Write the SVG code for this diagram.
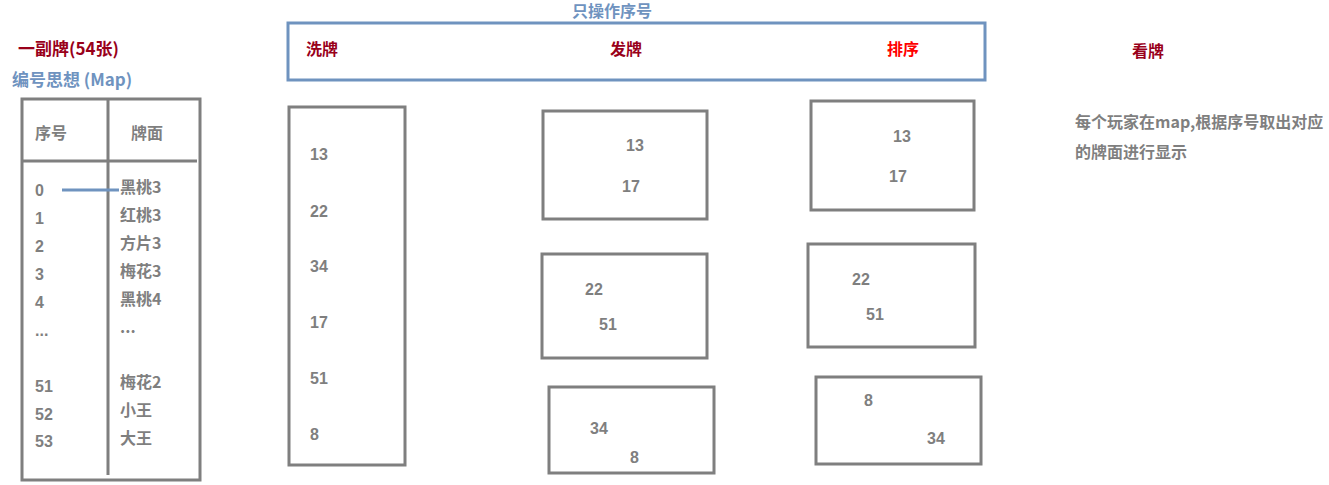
<svg xmlns="http://www.w3.org/2000/svg" width="1329" height="485" viewBox="0 0 1329 485">
<style>
text{font-family:"Liberation Sans","Noto Sans CJK SC",sans-serif;font-size:16px;font-weight:bold;fill:#7f7f7f}
.cj{font-family:"Noto Sans CJK SC",sans-serif;font-size:16px}
.ttl{font-size:17px}
.red{fill:#99001a}
.bright{fill:#ff0000}
.blue{fill:#6f93bf}
.box{fill:none;stroke:#7f7f7f;stroke-width:3}
.bbox{fill:none;stroke:#6f93bf;stroke-width:3}
.num{font-size:16px}
</style>
<rect width="1329" height="485" fill="#ffffff"/>
<g id="titles">
<text class="cj ttl red" x="18" y="55">一副牌(54张)</text>
<text class="cj ttl blue" x="12" y="86">编号思想 (Map)</text>
<text class="cj blue" x="572" y="17">只操作序号</text>
<text class="cj red" x="1132" y="57">看牌</text>
<text class="cj" x="1075" y="128">每个玩家在map,根据序号取出对应</text>
<text class="cj" x="1075" y="158">的牌面进行显示</text>
</g>
<g id="map-table">
<rect class="box" x="22" y="99" width="178" height="381"/>
<line class="box" x1="108" y1="100" x2="108" y2="475"/>
<line class="box" x1="22" y1="161" x2="197" y2="161"/>
<text class="cj" x="35" y="139">序号</text>
<text class="cj" x="131" y="139">牌面</text>
<text class="num" x="35" y="196">0</text>
<text class="num" x="35" y="224">1</text>
<text class="num" x="35" y="252">2</text>
<text class="num" x="35" y="280">3</text>
<text class="num" x="35" y="308">4</text>
<text class="num" x="35" y="336">...</text>
<text class="num" x="35" y="392">51</text>
<text class="num" x="35" y="420">52</text>
<text class="num" x="35" y="447">53</text>
<text class="cj" x="120" y="193">黑桃3</text>
<text class="cj" x="120" y="221">红桃3</text>
<text class="cj" x="120" y="249">方片3</text>
<text class="cj" x="120" y="277">梅花3</text>
<text class="cj" x="120" y="305">黑桃4</text>
<text class="cj" x="120" y="333">...</text>
<text class="cj" x="120" y="388">梅花2</text>
<text class="cj" x="120" y="416">小王</text>
<text class="cj" x="120" y="444">大王</text>
</g>
<g id="ops">
<rect class="bbox" x="288" y="23" width="697" height="57"/>
<text class="cj red" x="306" y="55">洗牌</text>
<text class="cj red" x="610" y="55">发牌</text>
<text class="cj bright" x="887" y="55">排序</text>
</g>
<g id="shuffle">
<rect class="box" x="289" y="107" width="116" height="358"/>
<text class="num" x="310" y="160">13</text>
<text class="num" x="310" y="217">22</text>
<text class="num" x="310" y="272">34</text>
<text class="num" x="310" y="328">17</text>
<text class="num" x="310" y="384">51</text>
<text class="num" x="310" y="440">8</text>
</g>
<g id="deal-1">
<rect class="box" x="543" y="111" width="164" height="108"/>
<text class="num" x="626" y="151">13</text>
<text class="num" x="622" y="192">17</text>
</g>
<g id="deal-2">
<rect class="box" x="542" y="254" width="165" height="104"/>
<text class="num" x="585" y="295">22</text>
<text class="num" x="599" y="330">51</text>
</g>
<g id="deal-3">
<rect class="box" x="549" y="387" width="165" height="86"/>
<text class="num" x="590" y="434">34</text>
<text class="num" x="630" y="463">8</text>
</g>
<g id="sort-1">
<rect class="box" x="811" y="101" width="163" height="109"/>
<text class="num" x="893" y="142">13</text>
<text class="num" x="889" y="182">17</text>
</g>
<g id="sort-2">
<rect class="box" x="808" y="244" width="167" height="103"/>
<text class="num" x="852" y="285">22</text>
<text class="num" x="866" y="320">51</text>
</g>
<g id="sort-3">
<rect class="box" x="816" y="377" width="165" height="87"/>
<text class="num" x="864" y="406">8</text>
<text class="num" x="927" y="444">34</text>
</g>
<g id="connectors">
<line x1="62" y1="190" x2="119" y2="190" stroke="#6f93bf" stroke-width="3"/>
</g>
</svg>
